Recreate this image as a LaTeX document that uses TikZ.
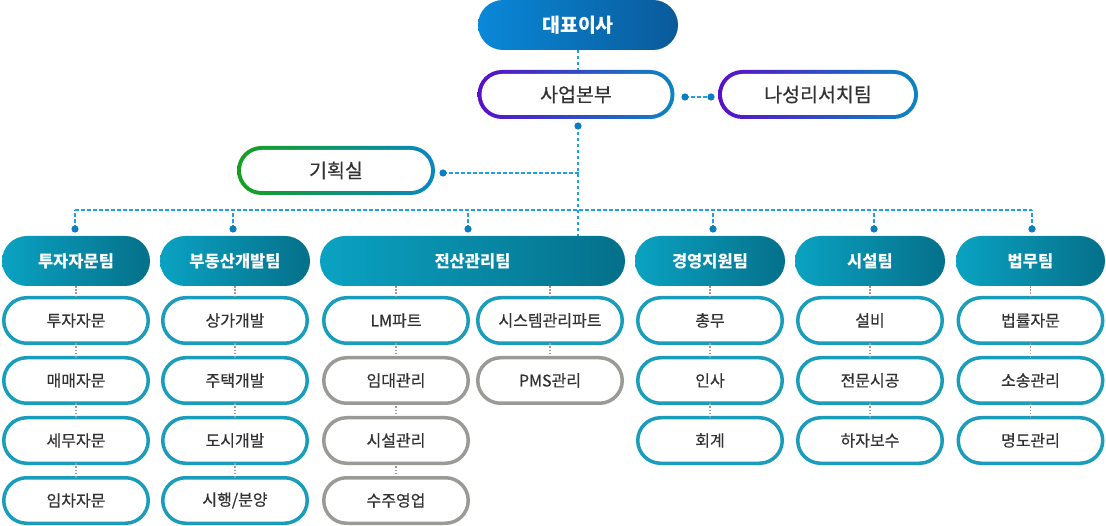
\documentclass[tikz,border=0pt]{standalone}
\usepackage{fontspec}
\setmainfont{Noto Sans CJK KR}
\newfontfamily\medfont[FakeBold=0.5]{Noto Sans CJK KR}
\usetikzlibrary{shapes.misc,calc}
\definecolor{ceoA}{HTML}{0A88D8}
\definecolor{ceoB}{HTML}{0A5A9A}
\definecolor{purA}{HTML}{5A0FC8}
\definecolor{bluB}{HTML}{0A86C2}
\definecolor{grnA}{HTML}{14A01E}
\definecolor{tealA}{HTML}{0AA2C2}
\definecolor{tealB}{HTML}{05708A}
\definecolor{itemc}{HTML}{1A9DBB}
\definecolor{grayc}{HTML}{9A9A96}
\definecolor{dashc}{HTML}{1EA0E6}
\definecolor{dotc}{HTML}{0A7EC0}
\definecolor{txt}{HTML}{333333}
\begin{document}
\begin{tikzpicture}[x=1pt,y=-1pt,
  pill/.style={rounded rectangle, inner sep=0pt, outer sep=0pt},
  team/.style={pill, minimum height=50pt, left color=tealA, right color=tealB, text=white, font=\fontsize{16.5}{19}\selectfont\bfseries},
  item/.style={pill, minimum width=144.5pt, minimum height=45.5pt, draw=itemc, line width=3.5pt, fill=white, text=txt, font=\fontsize{16}{19}\medfont},
  gitem/.style={item, draw=grayc},
  gouter/.style={pill, minimum height=49pt},
  ginner/.style={pill, minimum height=41pt, fill=white, text=txt, font=\fontsize{19.5}{23}\medfont},
  dashline/.style={draw=dashc, line width=1.6pt, dash pattern=on 3.5pt off 2.5pt},
  dotline/.style={draw=grayc, line width=1.6pt, dash pattern=on 1.6pt off 1.6pt},
  dot/.style={fill=dotc}
]
\useasboundingbox (0,0) rectangle (1106,526);

% top
\node[pill, minimum width=200pt, minimum height=50pt, left color=ceoA, right color=ceoB, text=white, font=\fontsize{19.5}{23}\selectfont\bfseries] (ceo) at (578,25) {대표이사};

\node[gouter, minimum width=197pt, left color=purA, right color=bluB] (hq) at (576,94.5) {};
\node[ginner, minimum width=189pt] (hqt) at (hq.center) {사업본부};

\node[gouter, minimum width=200pt, left color=purA, right color=bluB] (rs) at (818,94.5) {};
\node[ginner, minimum width=192pt] (rst) at (rs.center) {나성리서치팀};

\node[gouter, minimum width=198pt, left color=grnA, right color=bluB] (pl) at (336,170.5) {};
\node[ginner, minimum width=190pt] (plt) at (pl.center) {기획실};

% teams
\node[team, minimum width=148pt] (t1) at (76,261) {투자자문팀};
\node[team, minimum width=150pt] (t2) at (235,261) {부동산개발팀};
\node[team, minimum width=305pt] (t3) at (472.5,261) {전산관리팀};
\node[team, minimum width=150pt] (t4) at (710,261) {경영지원팀};
\node[team, minimum width=150pt] (t5) at (870,261) {시설팀};
\node[team, minimum width=149pt] (t6) at (1030.5,261) {법무팀};

% items
\node[item] (a1) at (76,320.5) {투자자문};
\node[item] (a2) at (76,380.5) {매매자문};
\node[item] (a3) at (76,440.5) {세무자문};
\node[item] (a4) at (76,500.5) {임차자문};

\node[item] (b1) at (235,320.5) {상가개발};
\node[item] (b2) at (235,380.5) {주택개발};
\node[item] (b3) at (235,440.5) {도시개발};
\node[item] (b4) at (235,500.5) {시행/분양};

\node[item] (c1) at (396,320.5) {LM파트};
\node[gitem] (c2) at (396,380.5) {임대관리};
\node[gitem] (c3) at (396,440.5) {시설관리};
\node[gitem] (c4) at (396,500.5) {수주영업};

\node[item] (s1) at (550,320.5) {시스템관리파트};
\node[gitem] (s2) at (550,380.5) {PMS관리};

\node[item] (d1) at (710,320.5) {총무};
\node[item] (d2) at (710,380.5) {인사};
\node[item] (d3) at (710,440.5) {회계};

\node[item] (e1) at (870,320.5) {설비};
\node[item] (e2) at (870,380.5) {전문시공};
\node[item] (e3) at (870,440.5) {하자보수};

\node[item] (f1) at (1030.5,320.5) {법률자문};
\node[item] (f2) at (1030.5,380.5) {소송관리};
\node[item] (f3) at (1030.5,440.5) {명도관리};

% blue dashed connectors
\coordinate (hqdot) at (578,126);
\coordinate (hqr) at (685,97);
\coordinate (rsl) at (711,97);
\coordinate (pldot) at (443,173);
\coordinate (plj) at (579,173);
\coordinate (bus) at (579,210);

\draw[dashline] (ceo.south) -- (ceo.south |- hq.north);
\draw[dashline] (hqr) -- (rsl);
\draw[dashline] (hqdot) -- (hqdot |- t3.north);
\draw[dashline] (pldot) -- (plj);
\foreach \t/\x in {t1/75,t2/233,t3/468,t4/713,t5/874,t6/1032}{
  \coordinate (\t dot) at (\x,229);
  \draw[dashline] (\t dot) -- (\x,210);
}
\draw[dashline] (75,210) -- (1032,210);
\foreach \c in {hqdot,hqr,rsl,pldot,t1dot,t2dot,t3dot,t4dot,t5dot,t6dot}
  \fill[dot] (\c) circle (3.6);

% gray dotted connectors
\foreach \u/\v in {t1/a1,a1/a2,a2/a3,a3/a4,t2/b1,b1/b2,b2/b3,b3/b4,d1/d2,d2/d3,t4/d1,t5/e1,e1/e2,e2/e3,t6/f1,f1/f2,f2/f3,c1/c2,c2/c3,c3/c4,s1/s2}
  \draw[dotline] (\u.south -| \v.north) -- (\v.north);
\draw[dotline] (c1.north |- t3.south) -- (c1.north);
\draw[dotline] (s1.north |- t3.south) -- (s1.north);
\end{tikzpicture}
\end{document}
